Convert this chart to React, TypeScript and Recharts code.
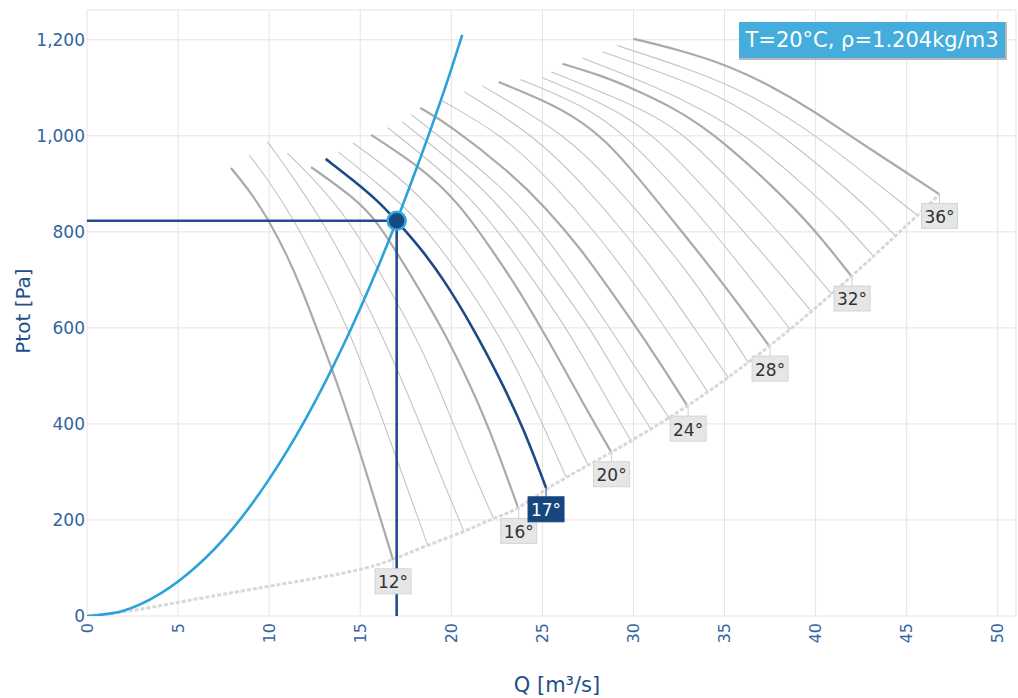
import React from 'react';
import { ComposedChart, Line, Scatter, XAxis, YAxis, CartesianGrid } from 'recharts';

type Pt = [number, number];

// Fan curves: [Q m³/s, Ptot Pa] per blade angle
const curve12: Pt[] = [[7.9, 933], [9.0, 882], [10.0, 823], [11.0, 750], [11.8, 680], [12.6, 600], [13.9, 469], [15.3, 304], [16.8, 117]];
const curve13: Pt[] = [[8.9, 960], [10.1, 900], [11.4, 823], [12.9, 712], [14.3, 600], [15.4, 495], [16.4, 390], [17.6, 265], [18.7, 148]];
const curve14: Pt[] = [[9.9, 988], [11.3, 915], [12.9, 823], [14.5, 715], [16.0, 600], [17.2, 500], [18.3, 398], [19.5, 285], [20.7, 175]];
const curve15: Pt[] = [[11.0, 964], [12.7, 900], [14.4, 823], [16.1, 715], [17.8, 600], [19.0, 505], [20.1, 400], [21.2, 300], [22.3, 204]];
const curve16: Pt[] = [[12.3, 935], [14.6, 873], [15.9, 825], [17.7, 715], [19.5, 600], [20.8, 500], [22.0, 400], [23.7, 222]];
const curve17: Pt[] = [[13.1, 952], [14.6, 908], [15.9, 867], [17.0, 823], [18.4, 762], [19.6, 700], [21.2, 600], [22.7, 492], [24.0, 388], [25.2, 267]];
const curve18: Pt[] = [[13.8, 966], [16.0, 900], [18.3, 823], [20.4, 715], [22.4, 600], [23.8, 500], [25.0, 400], [26.3, 290]];
const curve19: Pt[] = [[14.6, 985], [17.0, 920], [19.6, 823], [21.7, 715], [23.6, 600], [25.1, 500], [26.4, 400], [27.5, 315]];
const curve20: Pt[] = [[15.6, 1002], [18.5, 930], [20.4, 860], [22.1, 770], [23.6, 685], [24.9, 602], [26.1, 522], [27.3, 438], [28.8, 340]];
const curve21: Pt[] = [[16.5, 1017], [20.4, 900], [22.6, 800], [24.5, 700], [26.3, 600], [27.5, 522], [28.7, 442], [29.9, 362]];
const curve22: Pt[] = [[17.3, 1029], [21.6, 900], [23.8, 800], [25.7, 700], [27.6, 600], [28.8, 522], [29.9, 452], [31.0, 387]];
const curve23: Pt[] = [[17.8, 1044], [22.7, 900], [25.0, 800], [26.9, 700], [28.7, 600], [29.9, 530], [31.0, 466], [32.0, 410]];
const curve24: Pt[] = [[18.3, 1058], [19.9, 1023], [23.2, 925], [25.2, 850], [27.1, 765], [28.6, 685], [30.0, 610], [31.5, 525], [33.0, 435]];
const curve25: Pt[] = [[19.5, 1073], [22.9, 1000], [25.6, 900], [28.0, 795], [30.1, 690], [32.2, 575], [34.1, 465]];
const curve26: Pt[] = [[20.7, 1092], [24.6, 1000], [27.2, 900], [29.6, 795], [31.7, 690], [33.6, 585], [35.2, 497]];
const curve27: Pt[] = [[21.7, 1104], [26.4, 1000], [28.9, 900], [31.2, 800], [33.3, 700], [34.9, 610], [36.3, 528]];
const curve28: Pt[] = [[22.6, 1112], [25.0, 1075], [27.0, 1035], [28.6, 985], [30.0, 925], [32.5, 808], [34.9, 694], [37.5, 560]];
const curve29: Pt[] = [[23.8, 1117], [26.0, 1083], [28.0, 1045], [29.7, 995], [32.1, 900], [34.4, 800], [36.6, 695], [38.6, 597]];
const curve30: Pt[] = [[25.0, 1121], [27.4, 1083], [29.4, 1045], [31.3, 995], [33.8, 895], [36.2, 795], [38.1, 710], [39.8, 633]];
const curve31: Pt[] = [[25.5, 1133], [28.8, 1083], [31.0, 1045], [32.9, 1000], [35.5, 900], [38.1, 795], [40.9, 670]];
const curve32: Pt[] = [[26.1, 1150], [28.2, 1126], [30.0, 1098], [32.0, 1062], [33.6, 1025], [35.3, 975], [37.5, 900], [39.8, 812], [42.0, 706]];
const curve33: Pt[] = [[27.2, 1162], [31.4, 1100], [34.0, 1050], [36.2, 1000], [39.3, 900], [41.4, 825], [43.2, 748]];
const curve34: Pt[] = [[28.3, 1175], [33.9, 1100], [36.2, 1050], [38.2, 1000], [41.4, 900], [43.0, 845], [44.4, 791]];
const curve35: Pt[] = [[29.1, 1188], [33.0, 1140], [36.3, 1090], [40.1, 1000], [43.4, 900], [45.6, 834]];
const curve36: Pt[] = [[30.0, 1202], [32.5, 1179], [35.1, 1148], [37.5, 1105], [39.8, 1054], [41.7, 1005], [43.5, 960], [45.2, 918], [46.8, 878]];

const grayAngles = [12, 13, 14, 15, 16, 18, 19, 20, 21, 22, 23, 24, 25, 26, 27, 28, 29, 30, 31, 32, 33, 34, 35, 36];
const grayCurves = [curve12, curve13, curve14, curve15, curve16, curve18, curve19, curve20, curve21, curve22, curve23, curve24, curve25, curve26, curve27, curve28, curve29, curve30, curve31, curve32, curve33, curve34, curve35, curve36];
const thickAngles = [12, 16, 20, 24, 28, 32, 36];
const labelAngles = [12, 16, 20, 24, 28, 32, 36];
const selectedAngle = 17;

// System curve
const systemCurve: Pt[] = [[0, 0], [2, 11], [4, 46], [6, 103], [8, 182], [10, 285], [12, 410], [14, 558], [16, 729], [17, 823], [18, 923], [20, 1139], [20.6, 1210]];
// Lower limit (dashed)
const limitCurve: Pt[] = [[0, 0], [2.5, 10], [5, 29], [10, 62], [15, 94], [16.8, 117], [18.7, 148], [20.7, 175], [22.3, 204], [23.7, 222], [25.2, 267], [28.8, 340], [33.0, 435], [37.5, 560], [42.0, 706], [46.8, 878]];
// Operating point
const opQ = 17.0;
const opP = 823;

const xTicks = [0, 5, 10, 15, 20, 25, 30, 35, 40, 45, 50];
const yTicks = [0, 200, 400, 600, 800, 1000, 1200];
const yTickLabels = ['0', '200', '400', '600', '800', '1,000', '1,200'];

const toData = (c: Pt[]) => c.map(([q, p]) => ({ q, p }));

const FONT = 'DejaVu Sans, Verdana, sans-serif';
const TICK_COLOR = '#33649f';
const TITLE_COLOR = '#1e4f8a';

const XTick = (props: any) => {
  const { x, payload } = props;
  return (
    <text transform={`translate(${x},623) rotate(-90)`} textAnchor="end" dominantBaseline="central" fill={TICK_COLOR} fontSize={16} fontFamily={FONT}>
      {payload.value}
    </text>
  );
};

const YTick = (props: any) => {
  const { y, payload } = props;
  const idx = yTicks.indexOf(payload.value);
  return (
    <text x={85} y={y} textAnchor="end" dominantBaseline="central" fill={TICK_COLOR} fontSize={17} fontFamily={FONT}>
      {idx >= 0 ? yTickLabels[idx] : payload.value}
    </text>
  );
};

const makeLabelShape = (dark: boolean) => (props: any) => {
  const { cx, cy, payload } = props;
  const w = 36;
  const h = 25;
  const top = cy + 9;
  return (
    <g>
      <line x1={cx} y1={cy} x2={cx} y2={top} stroke={dark ? '#1b4a87' : '#cfcfcf'} strokeWidth={1} />
      <rect x={cx - w / 2} y={top} width={w} height={h} fill={dark ? '#17467f' : '#e6e6e6'} stroke={dark ? '#17467f' : '#d4d4d4'} strokeWidth={1} />
      <text x={cx} y={top + h / 2 + 1} textAnchor="middle" dominantBaseline="central" fontSize={17} fontFamily={FONT} fill={dark ? '#ffffff' : '#333333'}>
        {payload.label}
      </text>
    </g>
  );
};

const OpDot = (props: any) => {
  const { cx, cy } = props;
  return <circle cx={cx} cy={cy} r={9} fill="#174a85" stroke="#3aa8dc" strokeWidth={2.5} />;
};

export default function App() {
  const labelData = labelAngles.map((a) => {
    const c = grayCurves[grayAngles.indexOf(a)];
    const [q, p] = c[c.length - 1];
    return { q, p, label: `${a}°` };
  });
  const selLast = curve17[curve17.length - 1];
  const selLabel = [{ q: selLast[0], p: selLast[1], label: `${selectedAngle}°` }];

  return (
    <div style={{ position: 'absolute', left: 0, top: 0, width: 1018, height: 698, background: '#fff', fontFamily: FONT }}>
      <ComposedChart width={1018} height={698} margin={{ top: 10, right: 2, bottom: 0, left: 0 }}>
        <CartesianGrid stroke="#e4e4e4" strokeWidth={1} />
        <XAxis
          type="number"
          dataKey="q"
          domain={[0, 51]}
          ticks={xTicks}
          allowDataOverflow
          axisLine={false}
          tickLine={false}
          height={82}
          tick={<XTick />}
          interval={0}
        />
        <YAxis
          type="number"
          dataKey="p"
          domain={[0, 1262]}
          ticks={yTicks}
          allowDataOverflow
          axisLine={false}
          tickLine={false}
          width={87}
          tick={<YTick />}
          interval={0}
        />
        {grayCurves.map((c, i) => {
          const thick = thickAngles.includes(grayAngles[i]);
          return (
            <Line
              key={`fan-${grayAngles[i]}`}
              data={toData(c)}
              dataKey="p"
              type="basis"
              stroke={thick ? '#aaaaaa' : '#c4c4c4'}
              strokeWidth={thick ? 2.2 : 1.1}
              dot={false}
              activeDot={false}
              isAnimationActive={false}
            />
          );
        })}
        <Line data={toData(limitCurve)} dataKey="p" type="basis" stroke="#d8d8d8" strokeWidth={3} strokeDasharray="4 2" dot={false} activeDot={false} isAnimationActive={false} />
        <Line data={toData(curve17)} dataKey="p" type="basis" stroke="#1b4a87" strokeWidth={2.6} dot={false} activeDot={false} isAnimationActive={false} />
        <Line data={toData(systemCurve)} dataKey="p" type="monotone" stroke="#2ba3d8" strokeWidth={2.6} dot={false} activeDot={false} isAnimationActive={false} />
        <Line data={[{ q: 0, p: opP }, { q: opQ, p: opP }]} dataKey="p" type="linear" stroke="#1f4e8c" strokeWidth={2.6} dot={false} activeDot={false} isAnimationActive={false} />
        <Line data={[{ q: opQ, p: opP }, { q: opQ, p: 0 }]} dataKey="p" type="linear" stroke="#1f4e8c" strokeWidth={2.6} dot={false} activeDot={false} isAnimationActive={false} />
        <Scatter data={labelData} dataKey="p" shape={makeLabelShape(false)} isAnimationActive={false} />
        <Scatter data={selLabel} dataKey="p" shape={makeLabelShape(true)} isAnimationActive={false} />
        <Scatter data={[{ q: opQ, p: opP }]} dataKey="p" shape={<OpDot />} isAnimationActive={false} />
      </ComposedChart>
      <div
        style={{
          position: 'absolute',
          left: 739,
          top: 22,
          width: 268,
          height: 38,
          background: '#45addb',
          borderRight: '2px solid #b8b8b8',
          borderBottom: '2px solid #b8b8b8',
          boxSizing: 'border-box',
          color: '#ffffff',
          fontSize: 21,
          lineHeight: '36px',
          textAlign: 'center',
          fontFamily: FONT,
          whiteSpace: 'nowrap',
        }}
      >
        T=20°C, ρ=1.204kg/m3
      </div>
      <div
        style={{
          position: 'absolute',
          left: 23,
          top: 311,
          transform: 'translate(-50%, -50%) rotate(-90deg)',
          color: TITLE_COLOR,
          fontSize: 20,
          whiteSpace: 'nowrap',
          fontFamily: FONT,
        }}
      >
        Ptot [Pa]
      </div>
      <div
        style={{
          position: 'absolute',
          left: 557,
          top: 685,
          transform: 'translate(-50%, -50%)',
          color: TITLE_COLOR,
          fontSize: 21,
          whiteSpace: 'nowrap',
          fontFamily: FONT,
        }}
      >
        Q [m³/s]
      </div>
    </div>
  );
}
